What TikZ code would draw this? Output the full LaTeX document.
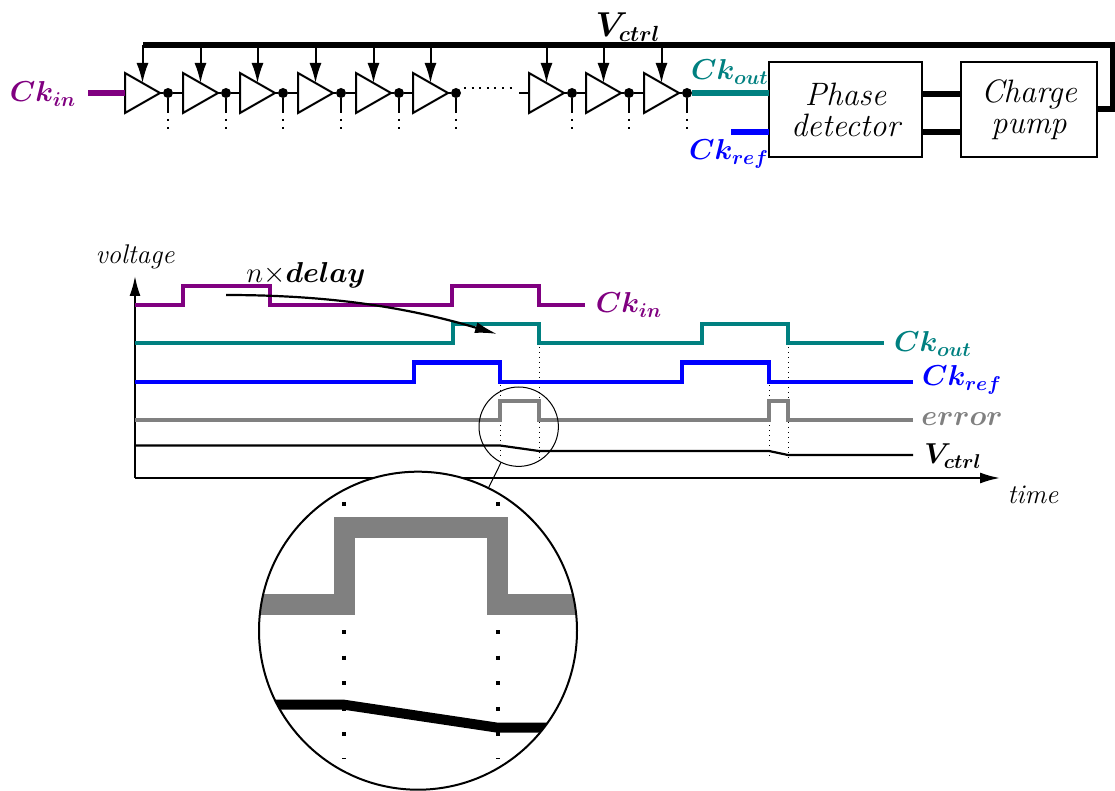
\documentclass[tikz,border=0pt]{standalone}
\usepackage{amsmath}
\usepackage{bm}
\usetikzlibrary{
shapes.geometric,
arrows.meta
}
\definecolor{ckincol}{RGB}{128,0,128}
\definecolor{ckoutcol}{RGB}{0,128,128}
\definecolor{errcol}{RGB}{128,128,128}
\tikzset{
bufgate/.style={draw,line width=1pt,fill=white,isosceles triangle,isosceles triangle stretches,
  minimum width=20pt,minimum height=17.5pt,inner sep=0pt,outer sep=0pt,anchor=lower side},
junct/.style={circle,fill=black,minimum size=5pt,inner sep=0pt,outer sep=0pt},
block/.style={draw,line width=1pt,minimum width=#1,minimum height=47.5pt,inner sep=0pt,outer sep=0pt,
  align=center,font=\fontsize{16.2}{15.5}\selectfont\itshape},
lens/.style={circle,draw,inner sep=0pt,outer sep=0pt},
lbl/.style={inner sep=0pt,font=\Large},
axlbl/.style={inner sep=0pt,font=\fontsize{13.5}{15}\selectfont\itshape},
wave/.style={line width=2.35pt,miter limit=10},
thin wire/.style={line width=1pt},
ctrl/.style={line width=1pt,-{Latex[length=10pt,width=6pt]}},
axisline/.style={line width=1pt,-{Latex[length=10pt,width=5.5pt]}},
tinydots/.style={line width=.2pt,dash pattern=on .5pt off 2pt},
zoomdots/.style={line width=2pt,dash pattern=on 2pt off 10.8pt}
}
\begin{document}
\begin{tikzpicture}[x=0.5pt,y=-0.5pt]

\useasboundingbox (0,0) rectangle (1115,791);

% Control bus
\coordinate (busl) at (143,45);
\coordinate (busr) at (1113,45);

% Buffer chain
\foreach \i/\x in {1/125,2/183,3/240,4/298,5/356,6/413,7/529,8/586,9/644}
{
\node[bufgate] (b\i) at (\x,93) {};
\node[junct] (j\i) at (\x+43,93) {};
\coordinate (s\i) at (\x+43,113);
\coordinate (e\i) at (\x+43,130);
\draw[thin wire] (b\i.apex) -- (j\i);
\draw[thin wire] (j\i) -- (s\i);
\draw[line width=1pt,dash pattern=on 1pt off 3pt] (s\i)++(0,6) -- (e\i);
\draw[ctrl] (b\i.left side |- busl) -- (b\i.left side);
}
\foreach \i/\j in {1/2,2/3,3/4,4/5,5/6,7/8,8/9}
{
\draw[thin wire] (j\i) -- (b\j.lower side);
}

% Gap in the chain
\coordinate (gapl) at (464,88.5);
\coordinate (gapr) at (517,88.5);
\coordinate (stub) at (519,93);
\draw[line width=1pt,dash pattern=on 1pt off 2.8pt] (gapl) -- (gapr);
\draw[thin wire] (stub) -- (b7.lower side);

% Blocks
\node[block=76.5pt] (pd) at (845.5,109.5) {Phase\\detector};
\node[block=68pt] (cp) at (1029,109.5) {Charge\\pump};

% Input and output wires
\coordinate (inl) at (88,93);
\coordinate (refl) at (731,132);
\draw[line width=2.6pt,ckincol] (inl) -- (b1.lower side);
\draw[line width=2.6pt,ckoutcol] (j9) -- (j9 -| pd.west);
\draw[line width=2.6pt,blue] (refl) -- (refl -| pd.west);
\draw[line width=2.6pt] (pd.east |- 0,94) -- (cp.west |- 0,94);
\draw[line width=2.6pt] (pd.east |- 0,132) -- (cp.west |- 0,132);
\draw[line width=2.7pt,miter limit=10] (busl) -- (busr) -- (busr |- 0,109) -- (cp.east |- 0,109);

% Top labels
\node[lbl,ckincol] (lckin) at (43,94) {$\bm{Ck_{in}}$};
\node[lbl,ckoutcol] (lckout) at (730,72) {$\bm{Ck_{out}}$};
\node[lbl,blue] (lckref) at (729,154) {$\bm{Ck_{ref}}$};
\node[lbl,font=\fontsize{16}{18}\selectfont] (lvctrl) at (628,27) {$\bm{V_{ctrl}}$};

% Axes
\coordinate (orig) at (135,478);
\coordinate (ytip) at (135,276);
\coordinate (xtip) at (1000,478);
\draw[axisline] (orig) -- (ytip);
\draw[axisline] (orig) -- (xtip);
\node[axlbl] (lvolt) at (135,257) {voltage};
\node[axlbl] (ltime) at (1033,495) {time};

% Dotted guides
\draw[tinydots] (539,347) -- (539,458);
\draw[tinydots] (500,385) -- (500,458);
\draw[tinydots] (788,347) -- (788,458);
\draw[tinydots] (769,385) -- (769,458);

% Waveforms
\draw[wave,ckincol] (135,305) -- (183,305) -- (183,286) -- (270,286) -- (270,305)
  -- (452,305) -- (452,286) -- (539,286) -- (539,305) -- (585,305);
\draw[wave,ckoutcol] (135,343) -- (453,343) -- (453,324) -- (539,324) -- (539,343)
  -- (702,343) -- (702,324) -- (788,324) -- (788,343) -- (884,343);
\draw[wave,blue] (135,382) -- (414,382) -- (414,362.5) -- (500,362.5) -- (500,382)
  -- (682,382) -- (682,362.5) -- (769,362.5) -- (769,382) -- (913,382);
\draw[wave,errcol] (135,420) -- (500,420) -- (500,401) -- (539,401) -- (539,420)
  -- (769,420) -- (769,401) -- (788,401) -- (788,420) -- (913,420);
\draw[line width=1.1pt] (135,445.5) -- (500,445.5) -- (539,451) -- (769,451) -- (788,455) -- (913,455);

% Delay arrow
\node[lbl] (ldelay) at (306,275) {$n{\times}\bm{delay}$};
\coordinate (dels) at (226,295);
\coordinate (dele) at (497,334);
\draw[line width=1.1pt,-{Latex[length=11pt,width=5.5pt]}] (dels) .. controls (320,295) and (400,305) .. (dele);

% Wave labels
\node[lbl,ckincol] (lwin) at (629,305) {$\bm{Ck_{in}}$};
\node[lbl,ckoutcol] (lwout) at (933,344) {$\bm{Ck_{out}}$};
\node[lbl,blue] (lwref) at (962,380) {$\bm{Ck_{ref}}$};
\node[lbl,errcol] (lwerr) at (962,419) {$\bm{error}$};
\node[lbl] (lwctrl) at (953,456) {$\bm{V_{ctrl}}$};

% Lens
\node[lens,line width=.5pt,minimum size=39.7pt] (small) at (518.7,426.7) {};
\fill[white] (418,630.7) circle (159);
\begin{scope}
\clip (418,630.7) circle (159);
\draw[zoomdots] (344,502) -- (344,759);
\draw[zoomdots] (497.7,502) -- (497.7,759);
\draw[line width=10.5pt,errcol,miter limit=10] (230,604.7) -- (344,604.7) -- (344,527.7)
  -- (497.7,527.7) -- (497.7,604.7) -- (600,604.7);
\draw[line width=5pt] (230,704.7) -- (344,704.7) -- (497.7,727.7) -- (600,727.7);
\end{scope}
\node[lens,line width=1pt,minimum size=159pt] (big) at (418,630.7) {};
\draw[line width=.5pt] (small) -- (big);

\end{tikzpicture}
\end{document}
